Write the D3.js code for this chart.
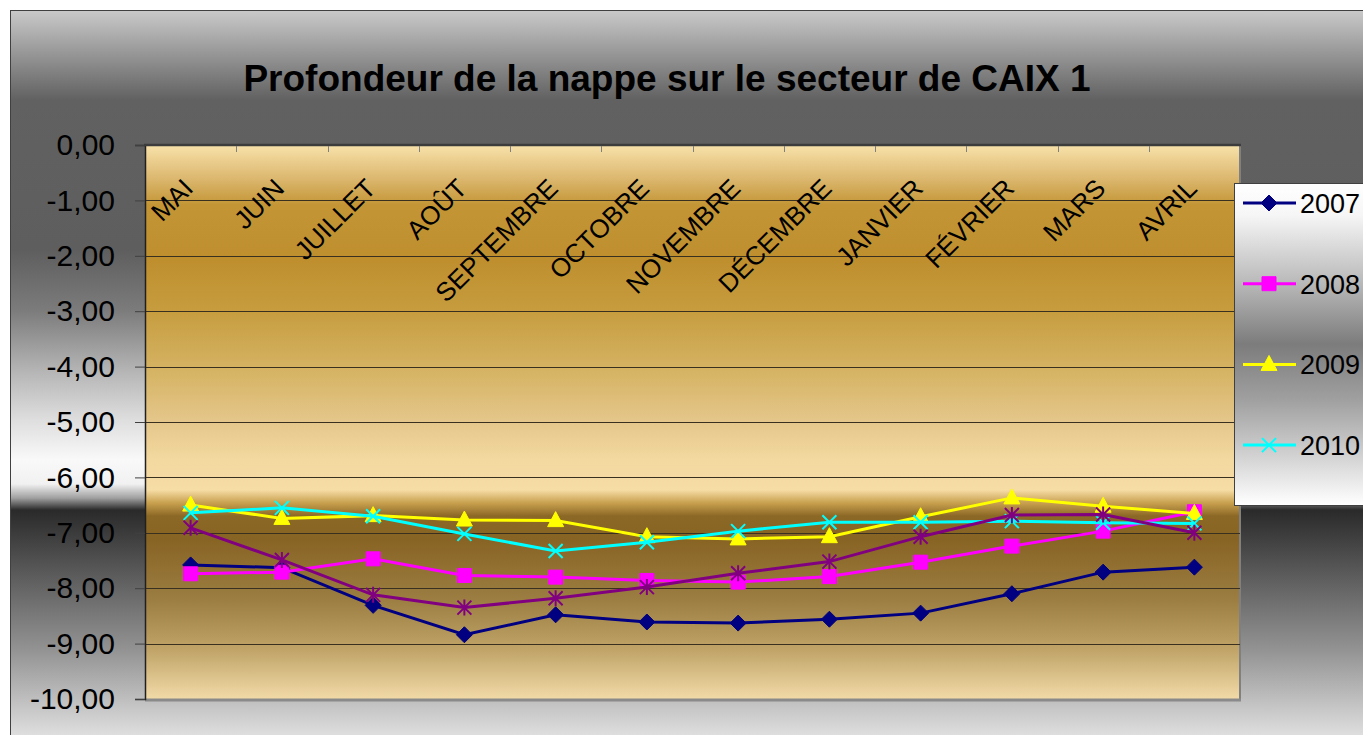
<!DOCTYPE html>
<html>
  <head>
    <meta charset="utf-8" />
    <title>Profondeur de la nappe sur le secteur de CAIX 1</title>
    <style>
      body {
        margin: 0;
        background: #ffffff;
      }
      text {
        font-family: "Liberation Sans", Arial, sans-serif;
      }
    </style>
  </head>
  <body>
    <div id="chart"></div>

    <script src="https://d3js.org/d3.v7.min.js"></script>
    <script>
      // months (hydrological year, May -> April)
      var months = ["MAI", "JUIN", "JUILLET", "AOÛT", "SEPTEMBRE", "OCTOBRE",
        "NOVEMBRE", "DÉCEMBRE", "JANVIER", "FÉVRIER", "MARS", "AVRIL"];

      var seriesNames = ["2007", "2008", "2009", "2010", "2011"];

      var v2007 = [-7.58, -7.63, -8.31, -8.84, -8.48, -8.61, -8.63, -8.56, -8.45, -8.10, -7.71, -7.62];
      var v2008 = [-7.74, -7.71, -7.47, -7.77, -7.80, -7.86, -7.89, -7.79, -7.53, -7.24, -6.97, -6.62];
      var v2009 = [-6.50, -6.74, -6.69, -6.77, -6.78, -7.07, -7.11, -7.07, -6.71, -6.37, -6.52, -6.65];
      var v2010 = [-6.64, -6.55, -6.70, -7.02, -7.33, -7.17, -6.97, -6.81, -6.81, -6.79, -6.82, -6.83];
      var v2011 = [-6.91, -7.49, -8.12, -8.35, -8.18, -7.98, -7.73, -7.52, -7.07, -6.68, -6.67, -7.00];

      var yTicks = [0, -1, -2, -3, -4, -5, -6, -7, -8, -9, -10];

      // only four entries fit in the legend box
      var legendNames = ["2007", "2008", "2009", "2010"];

      var colors = { "2007": "#000080", "2008": "#ff00ff", "2009": "#ffff00", "2010": "#00ffff", "2011": "#800080" };
      var markers = { "2007": "diamond", "2008": "square", "2009": "triangle", "2010": "cross", "2011": "star" };

      var allValues = [v2007, v2008, v2009, v2010, v2011];
      var series = seriesNames.map(function (name, i) {
        return { name: name, values: allValues[i] };
      });

      var W = 1363, H = 735;
      var plot = { left: 145, top: 145, right: 1240, bottom: 699 };

      var fr = d3.formatLocale({ decimal: ",", thousands: " ", grouping: [3], currency: ["", " €"], minus: "-" });
      var fmt = fr.format(".2f");

      var svg = d3.select("#chart").append("svg")
        .attr("width", W)
        .attr("height", H);

      var defs = svg.append("defs");

      function addGradient(id, y1, y2, stops) {
        var g = defs.append("linearGradient")
          .attr("id", id)
          .attr("gradientUnits", "userSpaceOnUse")
          .attr("x1", 0).attr("x2", 0)
          .attr("y1", y1).attr("y2", y2);
        stops.forEach(function (s) {
          g.append("stop")
            .attr("offset", (s[0] - y1) / (y2 - y1))
            .attr("stop-color", s[1]);
        });
      }

      addGradient("chromeBg", 10, 735, [
        [10, "#cacaca"], [55, "#959595"], [100, "#616161"], [250, "#5e5e5e"],
        [311, "#7c7c7c"], [370, "#b4b4b4"], [420, "#dedede"], [460, "#f9f9f9"],
        [484, "#f1f1f1"], [498, "#a0a0a0"], [510, "#2a2a2a"], [560, "#505050"],
        [650, "#939393"], [735, "#dedede"]
      ]);

      addGradient("goldBg", 145, 699, [
        [145, "#f8e2aa"], [178, "#dcb870"], [205, "#c39535"], [260, "#bf8f2e"],
        [310, "#c69c3e"], [380, "#d8b76a"], [420, "#e4c68a"], [460, "#f3d9a0"],
        [490, "#f6dca5"], [503, "#c8a04e"], [516, "#8c6826"], [540, "#886424"],
        [600, "#9c7e42"], [650, "#c0a468"], [699, "#f2daa8"]
      ]);

      addGradient("legendBg", 183, 505, [
        [183, "#ffffff"], [215, "#f6f6f6"], [284, "#b8b8b8"], [344, "#7c7c7c"],
        [400, "#a0a0a0"], [445, "#c8c8c8"], [505, "#ffffff"]
      ]);

      // chart area
      svg.append("rect")
        .attr("x", 10.5).attr("y", 10.5)
        .attr("width", W).attr("height", H)
        .attr("fill", "url(#chromeBg)")
        .attr("stroke", "#404040")
        .attr("stroke-width", 1);

      // title
      svg.append("text")
        .attr("x", 667)
        .attr("y", 91)
        .attr("text-anchor", "middle")
        .style("font-size", "37px")
        .style("font-weight", "bold")
        .text("Profondeur de la nappe sur le secteur de CAIX 1");

      // scales
      var x = d3.scaleBand()
        .domain(months)
        .range([plot.left, plot.right]);

      var y = d3.scaleLinear()
        .domain([-10, 0])
        .range([plot.bottom, plot.top]);

      // plot area
      svg.append("rect")
        .attr("x", plot.left)
        .attr("y", plot.top)
        .attr("width", plot.right - plot.left)
        .attr("height", plot.bottom - plot.top)
        .attr("fill", "url(#goldBg)");

      // plot area border (grey, thicker at the bottom)
      svg.append("line")
        .attr("x1", plot.right).attr("x2", plot.right)
        .attr("y1", plot.top).attr("y2", plot.bottom + 2)
        .attr("stroke", "#808080").attr("stroke-width", 2);
      svg.append("line")
        .attr("x1", plot.left).attr("x2", plot.right + 1)
        .attr("y1", plot.bottom + 1).attr("y2", plot.bottom + 1)
        .attr("stroke", "#8a8a8a").attr("stroke-width", 3);

      // gridlines
      svg.append("g")
        .selectAll("line")
        .data(yTicks.filter(function (d) { return d !== 0 && d !== -10; }))
        .enter()
        .append("line")
        .attr("x1", plot.left).attr("x2", plot.right)
        .attr("y1", function (d) { return Math.round(y(d)) + 0.5; })
        .attr("y2", function (d) { return Math.round(y(d)) + 0.5; })
        .attr("stroke", "#3a3020")
        .attr("stroke-width", 1.2);

      // y axis
      var yAxis = svg.append("g")
        .attr("transform", "translate(" + plot.left + ",0)")
        .call(d3.axisLeft(y).tickValues(yTicks).tickFormat(fmt).tickSize(10).tickPadding(20));
      yAxis.select(".domain").attr("stroke", "#202020").attr("stroke-width", 1.5);
      yAxis.selectAll(".tick line").attr("stroke", "#404040");
      yAxis.selectAll(".tick text")
        .style("font-size", "30px")
        .style("font-family", "'Liberation Sans', Arial, sans-serif")
        .attr("fill", "#000");

      // category axis at the top (value 0)
      var xAxisG = svg.append("g")
        .attr("transform", "translate(0," + plot.top + ")");
      xAxisG.append("line")
        .attr("x1", plot.left - 1).attr("x2", plot.right + 1)
        .attr("y1", 0).attr("y2", 0)
        .attr("stroke", "#3c3c3c").attr("stroke-width", 2.5);
      xAxisG.selectAll(".cattick")
        .data(months.slice(1))
        .enter()
        .append("line")
        .attr("class", "cattick")
        .attr("x1", function (d) { return Math.round(x(d)) + 0.5; })
        .attr("x2", function (d) { return Math.round(x(d)) + 0.5; })
        .attr("y1", 1).attr("y2", 7)
        .attr("stroke", "#808080");

      svg.append("g")
        .selectAll("text")
        .data(months)
        .enter()
        .append("text")
        .attr("transform", function (d) {
          return "translate(" + (x(d) + x.bandwidth() / 2 + 4) + "," + 190 + ") rotate(-45)";
        })
        .attr("text-anchor", "end")
        .style("font-size", "26px")
        .text(function (d) { return d; });

      // marker shapes
      function markerPath(type) {
        if (type === "diamond") return "M0,-8L8,0L0,8L-8,0Z";
        if (type === "square") return "M-7,-7H7V7H-7Z";
        if (type === "triangle") return "M0,-9L8,6H-8Z";
        if (type === "cross") return "M-7,-7L7,7M-7,7L7,-7";
        return "M-7,-7L7,7M-7,7L7,-7M0,-8V8";
      }
      function isStroked(type) {
        return type === "cross" || type === "star";
      }

      var line = d3.line()
        .x(function (d, i) { return x(months[i]) + x.bandwidth() / 2; })
        .y(function (d) { return y(d); });

      var seriesG = svg.append("g")
        .selectAll("g")
        .data(series)
        .enter()
        .append("g");

      seriesG.append("path")
        .attr("d", function (s) { return line(s.values); })
        .attr("fill", "none")
        .attr("stroke", function (s) { return colors[s.name]; })
        .attr("stroke-width", 3);

      seriesG.each(function (s) {
        var type = markers[s.name];
        d3.select(this).selectAll(".mk")
          .data(s.values)
          .enter()
          .append("path")
          .attr("class", "mk")
          .attr("transform", function (d, i) {
            return "translate(" + (x(months[i]) + x.bandwidth() / 2) + "," + y(d) + ")";
          })
          .attr("d", markerPath(type))
          .attr("fill", isStroked(type) ? "none" : colors[s.name])
          .attr("stroke", colors[s.name])
          .attr("stroke-width", isStroked(type) ? 2 : 1);
      });

      // legend
      var legend = svg.append("g");
      legend.append("rect")
        .attr("x", 1234.5).attr("y", 183.5)
        .attr("width", 200).attr("height", 322)
        .attr("fill", "url(#legendBg)")
        .attr("stroke", "#404040");

      var legendItem = legend.selectAll(".item")
        .data(legendNames)
        .enter()
        .append("g")
        .attr("class", "item")
        .attr("transform", function (d, i) { return "translate(0," + (203 + i * 80.7) + ")"; });

      legendItem.append("line")
        .attr("x1", 1243).attr("x2", 1296)
        .attr("y1", 0).attr("y2", 0)
        .attr("stroke", function (d) { return colors[d]; })
        .attr("stroke-width", 3);

      legendItem.append("path")
        .attr("transform", "translate(1269,0)")
        .attr("d", function (d) { return markerPath(markers[d]); })
        .attr("fill", function (d) { return isStroked(markers[d]) ? "none" : colors[d]; })
        .attr("stroke", function (d) { return colors[d]; })
        .attr("stroke-width", function (d) { return isStroked(markers[d]) ? 2 : 1; });

      legendItem.append("text")
        .attr("x", 1300)
        .attr("y", 10)
        .style("font-size", "27px")
        .text(function (d) { return d; });
    </script>
  </body>
</html>
